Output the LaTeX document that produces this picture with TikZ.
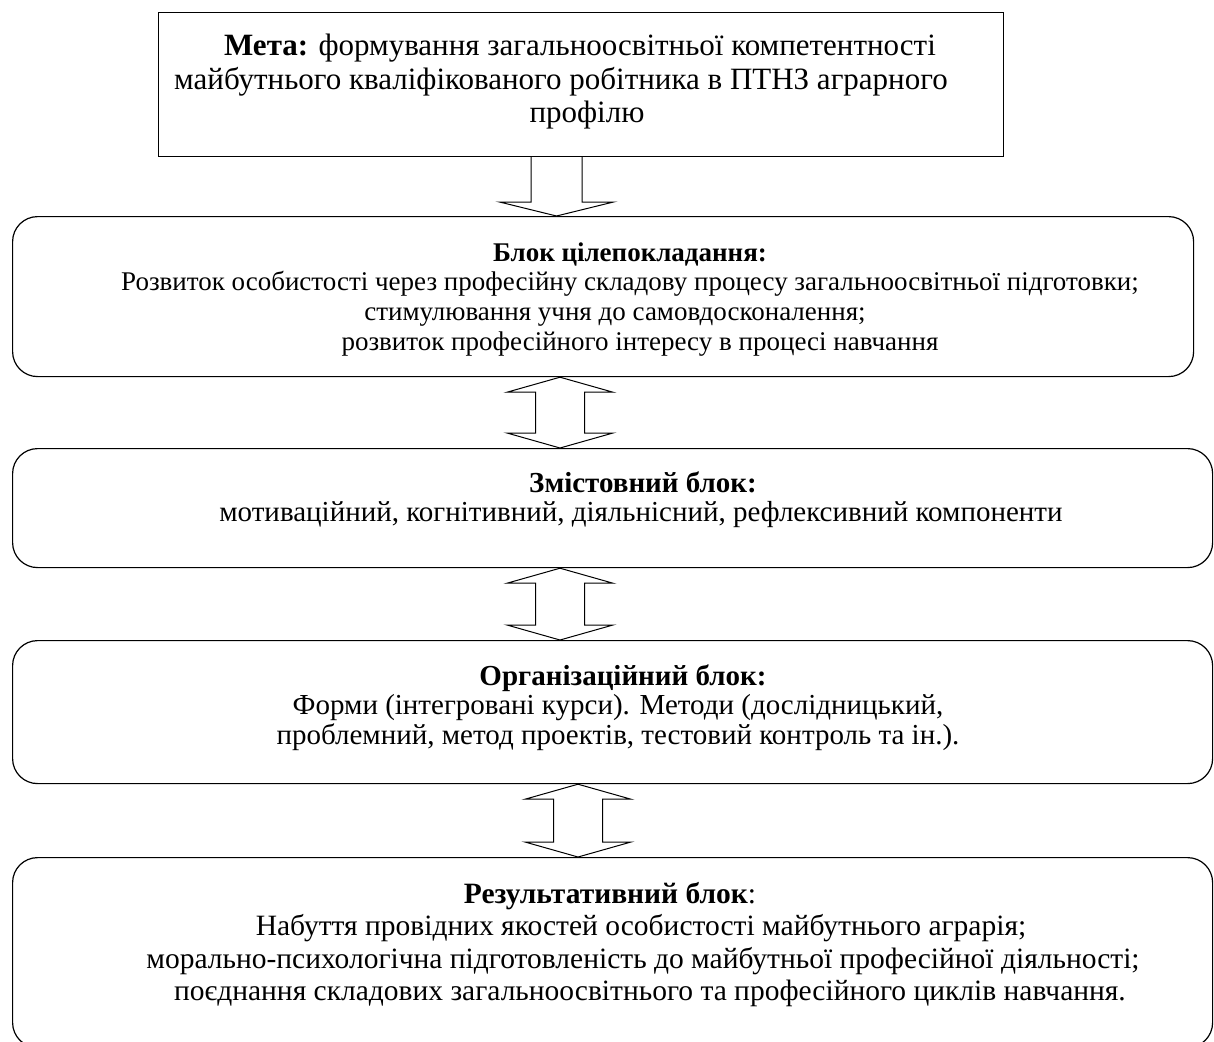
\documentclass[tikz,border=0pt]{standalone}
\usepackage{fontspec}
\setmainfont{Liberation Serif}
\usetikzlibrary{calc}
\tikzset{
  frame/.style={draw=black, line width=1.2pt, inner sep=0pt, anchor=north west},
  roundframe/.style={frame, rounded corners=25pt},
  txt/.style={anchor=base, inner sep=0pt, font=\fontsize{29}{33}\selectfont},
  txtbig/.style={txt, font=\fontsize{31}{35}\selectfont},
  txtsmall/.style={txt, font=\fontsize{27}{31}\selectfont},
  txtmid/.style={txt, font=\fontsize{29.5}{33}\selectfont},
  blockarrow/.style={draw=black, line width=1pt, fill=white, line join=miter}
}
\begin{document}
\begin{tikzpicture}[x=1pt, y=-1pt]
\useasboundingbox (0,0) rectangle (1214,1041);
% boxes
\node[frame, minimum width=845pt, minimum height=144pt] (top) at (158,12) {};
\node[roundframe, minimum width=1181pt, minimum height=160pt] (b1) at (12,216) {};
\node[roundframe, minimum width=1200pt, minimum height=119pt] (b2) at (12,448) {};
\node[roundframe, minimum width=1200pt, minimum height=143pt] (b3) at (12,640) {};
\node[roundframe, minimum width=1200pt, minimum height=190pt] (b4) at (12,857) {};
% texts
\node[txtbig] (t0a) at (580,56) {\textbf{Мета:} формування загальноосвітньої компетентності};
\node[txtbig] (t0b) at (561,89) {майбутнього кваліфікованого робітника в ПТНЗ аграрного};
\node[txtbig] (t0c) at (587,122) {профілю};
\node[txtsmall] (t1a) at (630,261) {\textbf{Блок цілепокладання:}};
\node[txtsmall] (t1b) at (630,290) {Розвиток особистості через професійну складову процесу загальноосвітньої підготовки;};
\node[txtsmall] (t1c) at (615,320) {стимулювання учня до самовдосконалення;};
\node[txtsmall] (t1d) at (640,350) {розвиток професійного інтересу в процесі навчання};
\node[txt] (t2a) at (643,492) {\textbf{Змістовний блок:}};
\node[txt] (t2b) at (641,521) {мотиваційний, когнітивний, діяльнісний, рефлексивний компоненти};
\node[txt] (t3a) at (623,685) {\textbf{Організаційний блок:}};
\node[txt] (t3b) at (618,714) {Форми (інтегровані курси). Методи (дослідницький,};
\node[txt] (t3c) at (618,744) {проблемний, метод проектів, тестовий контроль та ін.).};
\node[txtmid] (t4a) at (610,903) {\textbf{Результативний блок}:};
\node[txtmid] (t4b) at (641,935) {Набуття провідних якостей особистості майбутнього аграрія;};
\node[txtmid] (t4c) at (643,968) {морально-психологічна підготовленість до майбутньої професійної діяльності;};
\node[txtmid] (t4d) at (650,1000) {поєднання складових загальноосвітнього та професійного циклів навчання.};
% arrow axes
\coordinate (x0) at (556.5,0);
\coordinate (x1) at (560,0);
\coordinate (x2) at (560,0);
\coordinate (x3) at (578,0);
% single arrow
\draw[blockarrow] let \p1=(top.south -| x0), \p2=(b1.north -| x0) in
  (\x1-25.5pt,\y1) -- (\x1-25.5pt,\y2+14pt) -- (\x1-57pt,\y2+14pt) -- (\x2,\y2)
  -- (\x1+57pt,\y2+14pt) -- (\x1+25.5pt,\y2+14pt) -- (\x1+25.5pt,\y1);
% double arrows
\foreach \a/\b/\c in {b1/b2/x1, b2/b3/x2, b3/b4/x3}{
\draw[blockarrow] let \p1=(\a.south -| \c), \p2=(\b.north -| \c) in
  (\x1,\y1) -- (\x1+53pt,\y1-15pt) -- (\x1+24.5pt,\y1-15pt) -- (\x1+24.5pt,\y2+15pt)
  -- (\x1+53pt,\y2+15pt) -- (\x2,\y2) -- (\x1-53pt,\y2+15pt) -- (\x1-24.5pt,\y2+15pt)
  -- (\x1-24.5pt,\y1-15pt) -- (\x1-53pt,\y1-15pt) -- cycle;
}
\end{tikzpicture}
\end{document}
